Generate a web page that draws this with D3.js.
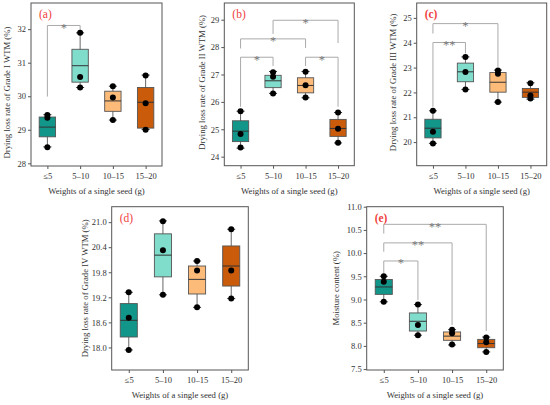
<!DOCTYPE html>
<html lang="en">
<head>
    <meta charset="UTF-8">
    <title>Seed weight boxplots</title>
    <script src="https://d3js.org/d3.v7.min.js"></script>
    <style>
        body { margin: 0; background: #fff; }
        svg text { font-family: 'Liberation Serif', 'Times New Roman', serif; }
        .tick text { font-size: 8.5px; fill: #333; }
        .tick line { stroke: #555; }
        .title { font-size: 8.7px; fill: #333; text-anchor: middle; }
        .plabel { font-size: 11.5px; fill: #f04040; }
        .star { font-size: 12.5px; fill: #777; text-anchor: middle; }
    </style>
</head>
<body>
<svg width="550" height="405"></svg>
<script>
    // categories and fill colours
    const groups = ["≤5", "5–10", "10–15", "15–20"];
    const colors = ["#12968a", "#80dccb", "#fdbb7a", "#c95b0a"];

    // box stats per group: [min, q1, median, q3, max]
    const gradeIBox = [[28.49, 28.79, 29.08, 29.38, 29.45], [30.26, 30.42, 30.91, 31.40, 31.89],
                       [29.29, 29.55, 29.86, 30.15, 30.30], [29.01, 29.05, 29.82, 30.26, 30.63]];
    const gradeIPts = [[29.44, 29.36, 28.48], [31.89, 30.57, 30.26], [30.30, 29.96, 29.29], [30.62, 29.79, 29.00]];
    const gradeISig = [{a: 0, b: 1, y: 32.11, la: 29.99, lb: 31.97, s: "*"}];

    const gradeIIBox = [[24.31, 24.55, 24.93, 25.31, 25.66], [26.31, 26.52, 26.77, 26.97, 27.11],
                        [26.15, 26.33, 26.60, 26.88, 27.11], [24.50, 24.74, 25.03, 25.36, 25.61]];
    const gradeIIPts = [[25.66, 24.83, 24.33], [27.08, 26.92, 26.31], [27.10, 26.61, 26.16], [25.61, 25.02, 24.51]];
    const gradeIISig = [{a: 0, b: 1, y: 27.63, la: 25.82, lb: 27.31, s: "*"},
                        {a: 0, b: 2, y: 28.30, la: 27.95, lb: 27.97, s: "*"},
                        {a: 1, b: 3, y: 28.98, la: 28.48, lb: 28.15, s: "*"},
                        {a: 2, b: 3, y: 27.63, la: 27.31, lb: 25.82, s: "*"}];

    const gradeIIIBox = [[19.95, 20.17, 20.56, 20.92, 21.26], [22.12, 22.43, 22.83, 23.18, 23.43],
                         [21.61, 22.01, 22.41, 22.80, 22.90], [21.73, 21.80, 22.01, 22.16, 22.39]];
    const gradeIIIPts = [[21.26, 20.42, 19.94], [23.43, 22.82, 22.12], [22.88, 22.75, 21.61], [22.37, 21.88, 21.76]];
    const gradeIIISig = [{a: 0, b: 1, y: 24.01, la: 21.42, lb: 23.57, s: "**"},
                         {a: 0, b: 2, y: 24.77, la: 24.37, lb: 23.03, s: "*"}];

    const gradeIVBox = [[17.94, 18.25, 18.65, 19.05, 19.32], [19.26, 19.69, 20.21, 20.72, 21.03],
                        [18.96, 19.28, 19.63, 19.95, 20.07], [19.17, 19.47, 19.95, 20.43, 20.83]];
    const gradeIVPts = [[19.32, 18.71, 17.94], [21.02, 20.33, 19.26], [20.07, 19.84, 18.96], [20.83, 19.84, 19.17]];
    const gradeIVSig = [];

    const moistBox = [[8.95, 9.11, 9.27, 9.43, 9.50], [8.23, 8.32, 8.53, 8.71, 8.89],
                      [8.02, 8.12, 8.21, 8.30, 8.35], [7.87, 7.96, 8.05, 8.14, 8.19]];
    const moistPts = [[9.50, 9.38, 8.95], [8.89, 8.45, 8.23], [8.35, 8.27, 8.03], [8.18, 8.08, 7.87]];
    const moistSig = [{a: 0, b: 1, y: 9.83, la: 9.56, lb: 8.99, s: "*"},
                      {a: 0, b: 2, y: 10.22, la: 10.03, lb: 8.45, s: "**"},
                      {a: 0, b: 3, y: 10.62, la: 10.42, lb: 8.32, s: "**"}];

    // y tick labels
    const ticksI = [28, 29, 30, 31, 32];
    const ticksII = [24, 25, 26, 27, 28, 29];
    const ticksIII = [20, 21, 22, 23, 24, 25];
    const ticksIV = [18.0, 18.6, 19.2, 19.8, 20.4, 21.0];
    const ticksMoist = [7.5, 8.0, 8.5, 9.0, 9.5, 10.0, 10.5, 11.0];

    const panels = [
        {tag: "(a)", bold: false, box: gradeIBox, pts: gradeIPts, sig: gradeISig, ticks: ticksI, fmt: "d",
         dom: [27.92, 32.78], x0: 31, x1: 162, y0: 3, y1: 166, tx: 24, tdy: 8,
         ytitle: "Drying loss rate of Grade I WTM (%)"},
        {tag: "(b)", bold: false, box: gradeIIBox, pts: gradeIIPts, sig: gradeIISig, ticks: ticksII, fmt: "d",
         dom: [23.67, 29.61], x0: 224.3, x1: 354.3, y0: 3, y1: 165.7, tx: 22, tdy: -2,
         ytitle: "Drying loss rate of Grade II WTM (%)"},
        {tag: "(c)", bold: true, box: gradeIIIBox, pts: gradeIIIPts, sig: gradeIIISig, ticks: ticksIII, fmt: "d",
         dom: [19.05, 25.6], x0: 416.7, x1: 546.7, y0: 3, y1: 165.7, tx: 23.4, tdy: -2,
         ytitle: "Drying loss rate of Grade III WTM (%)"},
        {tag: "(d)", bold: false, box: gradeIVBox, pts: gradeIVPts, sig: gradeIVSig, ticks: ticksIV, fmt: ".1f",
         dom: [17.46, 21.37], x0: 111.7, x1: 248.3, y0: 206.7, y1: 370, tx: 27, tdy: 0,
         ytitle: "Drying loss rate of Grade IV WTM (%)"},
        {tag: "(e)", bold: true, box: moistBox, pts: moistPts, sig: moistSig, ticks: ticksMoist, fmt: ".1f",
         dom: [7.48, 11.0], x0: 366.7, x1: 503.3, y0: 206.7, y1: 370, tx: 30.7, tdy: 0,
         ytitle: "Moisture content (%)"}
    ];

    const svg = d3.select("svg");
    panels.forEach(drawPanel);

    function drawPanel(p) {
        const x = d3.scalePoint().domain(groups).range([p.x0, p.x1]).padding(0.5);
        const y = d3.scaleLinear().domain(p.dom).range([p.y1, p.y0]);
        const bw = x.step() * 0.5;
        const g = svg.append("g");

        // axes
        const ya = g.append("g").attr("transform", `translate(${p.x0},0)`)
                .call(d3.axisLeft(y).tickValues(p.ticks).tickSize(3).tickPadding(2).tickFormat(d3.format(p.fmt)));
        ya.select(".domain").remove();
        const xa = g.append("g").attr("transform", `translate(0,${p.y1})`)
                .call(d3.axisBottom(x).tickSize(3).tickPadding(4));
        xa.select(".domain").remove();

        g.append("rect").attr("x", p.x0).attr("y", p.y0)
                .attr("width", p.x1 - p.x0).attr("height", p.y1 - p.y0)
                .attr("fill", "none").attr("stroke", "#555").attr("stroke-width", 1);

        // significance brackets
        p.sig.forEach(s => {
            const xa_ = x(groups[s.a]), xb = x(groups[s.b]);
            g.append("path")
                    .attr("d", `M${xa_},${y(s.la)}V${y(s.y)}H${xb}V${y(s.lb)}`)
                    .attr("fill", "none").attr("stroke", "#aaa").attr("stroke-width", 1);
            g.append("text").attr("class", "star")
                    .attr("x", (xa_ + xb) / 2).attr("y", y(s.y) + 6.5).text(s.s);
        });

        // boxes
        const bg = g.selectAll("g.box").data(p.box).enter().append("g").attr("class", "box");
        bg.append("line")
                .attr("x1", (d, i) => x(groups[i])).attr("x2", (d, i) => x(groups[i]))
                .attr("y1", d => y(d[0])).attr("y2", d => y(d[4]))
                .attr("stroke", "#666").attr("stroke-width", 1);
        [0, 4].forEach(k => bg.append("line")
                .attr("x1", (d, i) => x(groups[i]) - 4).attr("x2", (d, i) => x(groups[i]) + 4)
                .attr("y1", d => y(d[k])).attr("y2", d => y(d[k]))
                .attr("stroke", "#333").attr("stroke-width", 1));
        bg.append("rect")
                .attr("x", (d, i) => x(groups[i]) - bw / 2).attr("width", bw)
                .attr("y", d => y(d[3])).attr("height", d => y(d[1]) - y(d[3]))
                .attr("fill", (d, i) => colors[i]).attr("stroke", "#555").attr("stroke-width", 0.9);
        bg.append("line")
                .attr("x1", (d, i) => x(groups[i]) - bw / 2).attr("x2", (d, i) => x(groups[i]) + bw / 2)
                .attr("y1", d => y(d[2])).attr("y2", d => y(d[2]))
                .attr("stroke", "#333").attr("stroke-width", 1);

        // points
        p.pts.forEach((vals, i) => {
            g.selectAll(null).data(vals).enter().append("circle")
                    .attr("cx", x(groups[i])).attr("cy", d => y(d)).attr("r", 3)
                    .attr("fill", "#000");
        });

        // titles
        g.append("text").attr("class", "title")
                .attr("x", (p.x0 + p.x1) / 2).attr("y", p.y1 + 28)
                .text("Weights of a single seed (g)");
        g.append("text").attr("class", "title")
                .attr("transform", `translate(${p.x0 - p.tx + 3},${(p.y0 + p.y1) / 2 + p.tdy}) rotate(-90)`)
                .text(p.ytitle);
        g.append("text").attr("class", "plabel")
                .attr("x", p.x0 + 8).attr("y", p.y0 + 15)
                .style("font-weight", p.bold ? "bold" : "normal")
                .text(p.tag);
    }
</script>
</body>
</html>
